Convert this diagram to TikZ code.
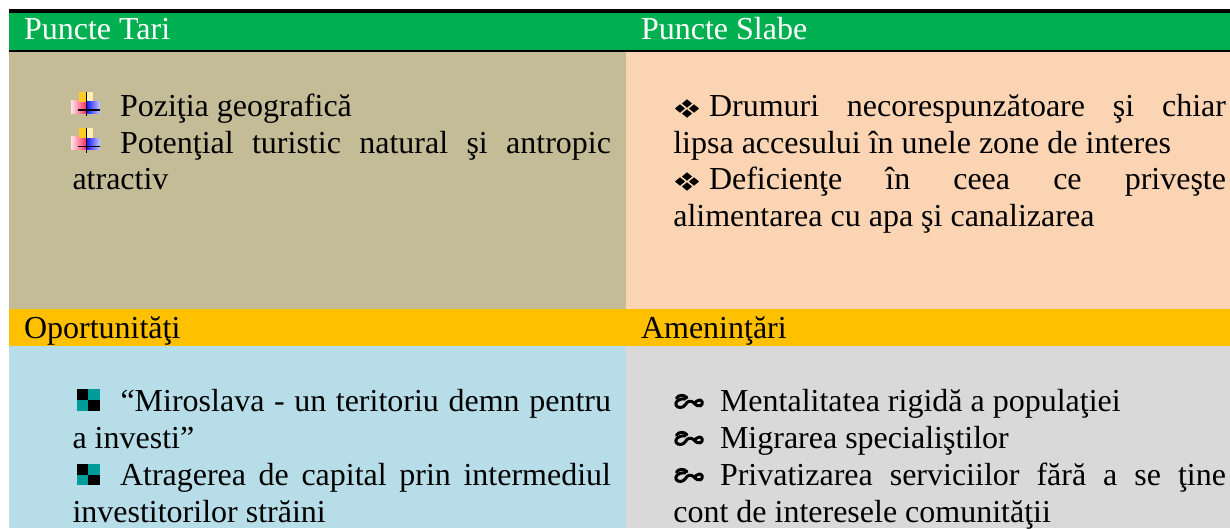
\documentclass[tikz,border=0pt]{standalone}
\usepackage{fontspec}
\setmainfont{Liberation Serif}
\definecolor{hdrgreen}{HTML}{00B050}
\definecolor{khaki}{HTML}{C4BC96}
\definecolor{peach}{HTML}{FBD4B4}
\definecolor{hdrorange}{HTML}{FFC000}
\definecolor{lblue}{HTML}{B6DDE8}
\definecolor{lgrey}{HTML}{D9D9D9}
\definecolor{gold}{HTML}{FFCC22}
\definecolor{paleyellow}{HTML}{FFF0B0}
\definecolor{tealsq}{HTML}{009C9C}
\newcommand{\jl}[2]{\makebox[#1][s]{#2}}
\begin{document}
\begin{tikzpicture}[x=1pt,y=-1pt,
  txt/.style={anchor=base west,inner sep=0pt,outer sep=0pt,font=\fontsize{32}{36.7}\selectfont},
  hdrw/.style={txt,text=white},
  hdrb/.style={txt,text=black},
  crossbullet/.pic={
    \shade[left color=red!10, right color=red!75!magenta!85] (0,8.3) rectangle (15.7,21.6);
    \fill[gold] (8,0) rectangle (15.7,10);
    \fill[paleyellow] (15.7,0) rectangle (22.3,10);
    \shade[left color=blue!90, right color=blue!25] (15.7,10) rectangle (28.3,21.6);
    \draw[line width=1.5pt] (15.7,0) -- (15.7,24.3);
    \draw[line width=1.5pt] (7.3,18.3) -- (29,18.3);
  },
  checkbullet/.pic={
    \fill[black] (0,0) rectangle (11.7,10.9);
    \fill[tealsq] (11.7,0) rectangle (23.3,10.9);
    \fill[tealsq] (0,10.9) rectangle (11.7,21.7);
    \fill[black] (11.7,10.9) rectangle (23.3,21.7);
  },
  diabullet/.pic={
    \foreach \cx/\cy in {-7/0,7/0,0/-5,0/5}{
      \fill[black] (\cx-5,\cy) -- (\cx,\cy-4.2) -- (\cx+5,\cy) -- (\cx,\cy+4.2) -- cycle;
    }
  },
  ornbullet/.pic={
    \draw[line width=3pt,line cap=round] (2.5,3.5) .. controls (5,0) and (10,0) .. (13,3.2);
    \draw[line width=3pt,line cap=round,line join=round] (11,4.5) .. controls (4,3.8) and (0.5,8) .. (2.2,11)
      .. controls (4,14) and (9.5,13.5) .. (11.5,10)
      .. controls (13.5,6.5) and (16.5,5.5) .. (19.5,8)
      .. controls (22,10.5) and (24,12.5) .. (26.5,11.3)
      .. controls (29.5,9.5) and (28.5,5.5) .. (25.5,5.5)
      .. controls (23,5.5) and (21.5,7.5) .. (20.5,9.5);
  }
]
\useasboundingbox (0,0) rectangle (1230,528);
% table bands
\fill[black] (8.7,9) rectangle (1230,12.7);
\fill[hdrgreen] (8.7,12.7) rectangle (1230,49.7);
\fill[black] (8.7,49.7) rectangle (1230,51.7);
\fill[khaki] (8.7,51.7) rectangle (626,309);
\fill[peach] (626,51.7) rectangle (1230,309);
\fill[hdrorange] (8.7,309) rectangle (1230,345.7);
\fill[lblue] (8.7,345.7) rectangle (626,528);
\fill[lgrey] (626,345.7) rectangle (1230,528);
% headers
\node[hdrw] (h1) at (24,39.5) {Puncte Tari};
\node[hdrw] (h2) at (641,39.5) {Puncte Slabe};
\node[hdrb] (h3) at (24,338) {Oportunităţi};
\node[hdrb] (h4) at (641,338) {Ameninţări};
% top-left
\pic at (71,91.7) {crossbullet};
\pic at (71,128.3) {crossbullet};
\node[txt] (s1) at (120,116.5) {Poziţia geografică};
\node[txt] (s2) at (120,153) {\jl{491pt}{Potenţial turistic natural şi antropic}};
\node[txt] (s3) at (72.5,189.5) {atractiv};
% top-right
\pic at (687,108.5) {diabullet};
\pic at (687,181.5) {diabullet};
\node[txt] (w1) at (709,116.5) {\jl{517pt}{Drumuri necorespunzătoare şi chiar}};
\node[txt] (w2) at (673.3,153) {lipsa accesului în unele zone de interes};
\node[txt] (w3) at (709,189.5) {\jl{517pt}{Deficienţe în ceea ce priveşte}};
\node[txt] (w4) at (673.3,226.3) {alimentarea cu apa şi canalizarea};
% bottom-left
\pic at (76.7,389.3) {checkbullet};
\pic at (76.7,463.6) {checkbullet};
\node[txt] (o1) at (120.5,411) {\jl{490.5pt}{“Miroslava - un teritoriu demn pentru}};
\node[txt] (o2) at (72.5,448) {a investi”};
\node[txt] (o3) at (120,485) {\jl{491pt}{Atragerea de capital prin intermediul}};
\node[txt] (o4) at (72.5,522) {investitorilor străini};
% bottom-right
\pic at (674,394.5) {ornbullet};
\pic at (674,431.5) {ornbullet};
\pic at (674,468.5) {ornbullet};
\node[txt] (a1) at (720,411) {Mentalitatea rigidă a populaţiei};
\node[txt] (a2) at (720,448) {Migrarea specialiştilor};
\node[txt] (a3) at (720,485) {\jl{506pt}{Privatizarea serviciilor fără a se ţine}};
\node[txt] (a4) at (673.3,522) {cont de interesele comunităţii};
\end{tikzpicture}
\end{document}
